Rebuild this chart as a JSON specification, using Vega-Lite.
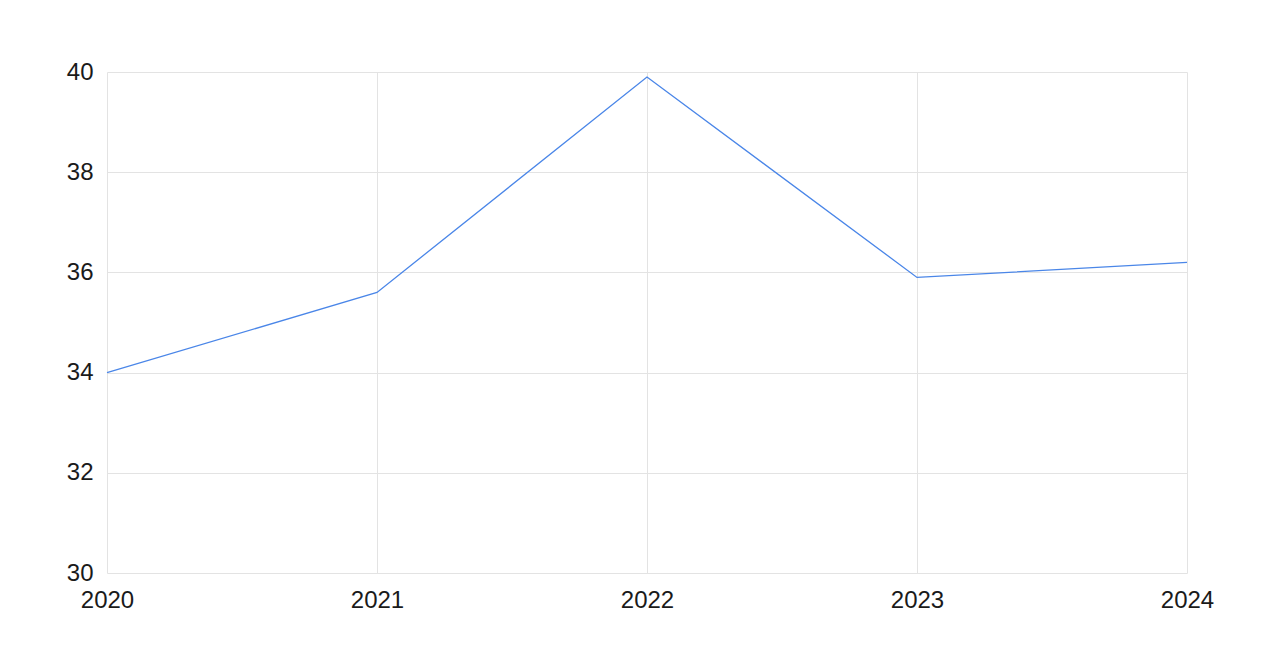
{
  "$schema": "https://vega.github.io/schema/vega-lite/v6.json",
  "autosize": {"type": "none"},
  "width": 1080,
  "height": 501,
  "padding": {"left": 107, "top": 72, "right": 93, "bottom": 97},
  "background": "#ffffff",
  "config": {
    "view": {"stroke": null},
    "font": "Liberation Sans",
    "axis": {
      "labelFont": "Liberation Sans",
      "labelFontSize": 24,
      "labelColor": "#1a1a1a",
      "gridColor": "#e3e3e3",
      "gridWidth": 1,
      "domain": false,
      "ticks": false,
      "title": null
    }
  },
  "data": {
    "values": [
      {"year": 2020, "value": 34.0},
      {"year": 2021, "value": 35.6},
      {"year": 2022, "value": 39.9},
      {"year": 2023, "value": 35.9},
      {"year": 2024, "value": 36.2}
    ]
  },
  "mark": {"type": "line", "color": "#4a86e8", "strokeWidth": 1.3},
  "encoding": {
    "x": {
      "field": "year",
      "type": "quantitative",
      "scale": {"domain": [2020, 2024], "nice": false, "zero": false},
      "axis": {"values": [2020, 2021, 2022, 2023, 2024], "format": "d", "labelPadding": 15, "labelFlush": false, "labelOverlap": false}
    },
    "y": {
      "field": "value",
      "type": "quantitative",
      "scale": {"domain": [30, 40], "nice": false, "zero": false},
      "axis": {"values": [30, 32, 34, 36, 38, 40], "labelPadding": 14}
    }
  }
}
